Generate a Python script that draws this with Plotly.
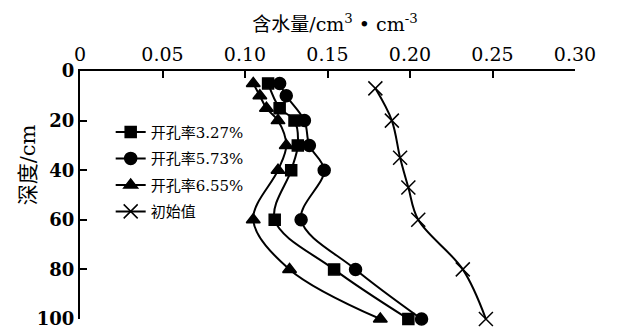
import plotly.graph_objects as go

# Soil water content profiles (cm3/cm3) vs depth (cm)
depth_327 = [5, 15, 20, 30, 40, 60, 80, 100]
water_327 = [0.114, 0.121, 0.130, 0.132, 0.128, 0.118, 0.154, 0.199]

depth_573 = [5, 10, 20, 30, 40, 60, 80, 100]
water_573 = [0.121, 0.125, 0.136, 0.139, 0.148, 0.134, 0.167, 0.207]

depth_655 = [5, 10, 15, 20, 30, 40, 60, 80, 100]
water_655 = [0.105, 0.109, 0.113, 0.120, 0.125, 0.120, 0.105, 0.127, 0.182]

depth_init = [7, 20, 35, 47, 60, 80, 100]
water_init = [0.179, 0.189, 0.194, 0.199, 0.205, 0.232, 0.246]

series_names = ["开孔率3.27%", "开孔率5.73%", "开孔率6.55%", "初始值"]
x_ticks = [0, 0.05, 0.10, 0.15, 0.20, 0.25, 0.30]
x_tick_text = ["0", "0.05", "0.10", "0.15", "0.20", "0.25", "0.30"]
y_ticks = [0, 20, 40, 60, 80, 100]

NUM_FONT = "DejaVu Serif, Noto Sans CJK SC"
CJK_FONT = "DejaVu Serif, Noto Sans CJK SC"

fig = go.Figure()

def add_series(xs, ys, name, symbol, size, group, lw=1.5):
    fig.add_trace(go.Scatter(
        x=xs, y=ys, name=name, mode="lines+markers",
        line=dict(color="black", width=2, shape="spline", smoothing=1.0),
        marker=dict(symbol=symbol, size=size, color="black",
                    line=dict(color="black", width=lw)),
        cliponaxis=False, legendgroup=group,
    ))

add_series(water_327, depth_327, series_names[0], "square", 11, "a")
add_series(water_573, depth_573, series_names[1], "circle", 12, "b")
add_series(water_655, depth_655, series_names[2], "triangle-up", 12, "c")
add_series(water_init, depth_init, series_names[3], "x-thin", 14, "d")

fig.update_layout(
    width=617, height=328,
    margin=dict(l=80, r=42, t=71, b=9),
    paper_bgcolor="white", plot_bgcolor="white",
    showlegend=True,
    legend=dict(x=0.062, y=0.82, xanchor="left", yanchor="top",
                bgcolor="rgba(0,0,0,0)", borderwidth=0,
                font=dict(family=CJK_FONT, size=15, color="black"),
                tracegroupgap=4, itemwidth=30),
    title=dict(text="含水量/cm<sup>3</sup> • cm<sup>-3</sup>",
               x=0.543, xanchor="center", y=0.927, yanchor="middle",
               font=dict(family=CJK_FONT, size=19, color="black")),
    annotations=[dict(
        text="深度/cm", textangle=-90, showarrow=False,
        xref="paper", yref="paper", x=-0.105, y=0.62,
        xanchor="center", yanchor="middle",
        font=dict(family=CJK_FONT, size=21, color="black"),
    )],
)

fig.update_xaxes(
    range=[0, 0.30], side="top", tickvals=x_ticks, ticktext=x_tick_text,
    showgrid=False, zeroline=False, showline=True, linecolor="black", linewidth=2,
    ticks="inside", ticklen=7, tickwidth=2, tickcolor="black",
    ticklabelstandoff=0, automargin=False,
    tickfont=dict(family=NUM_FONT, size=19, color="black"),
)
fig.update_yaxes(
    range=[100, 0], tickvals=y_ticks,
    showgrid=False, zeroline=False, showline=True, linecolor="black", linewidth=2,
    ticks="inside", ticklen=7, tickwidth=2, tickcolor="black",
    ticklabeloverflow="allow", automargin=False,
    tickfont=dict(family=NUM_FONT, size=18, color="black", weight="bold"),
)

fig.write_html("out.html")
